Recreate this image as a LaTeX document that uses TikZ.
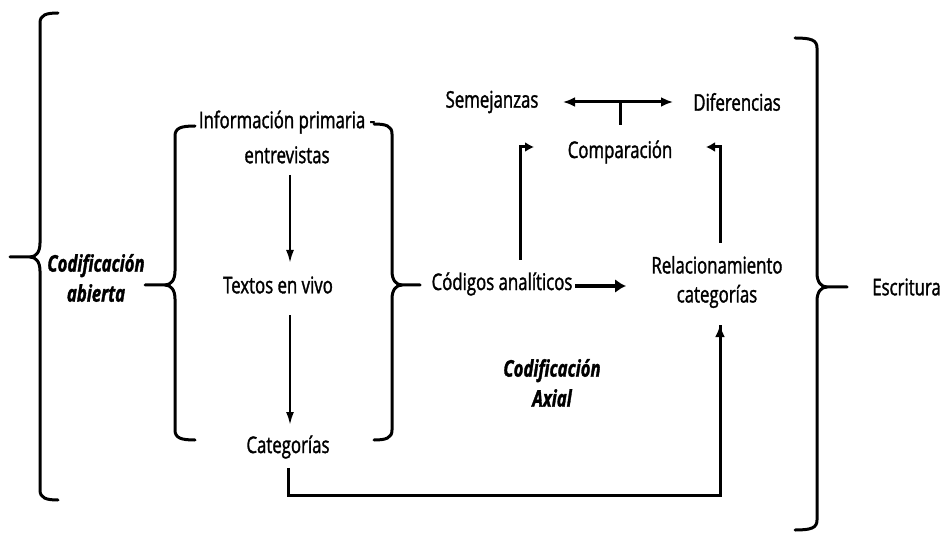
\documentclass[tikz,border=0pt]{standalone}
\usepackage{fontspec}
\setmainfont{Open Sans}[FakeStretch=0.73, FakeBold=1.4]
\usetikzlibrary{arrows.meta}
\newcommand\mybrace[7]{%
\draw[brk] (#5,#2) .. controls ({#1-6*#7},#2) and (#1,{#2+2}) .. (#1,{#2+10}) -- (#1,{#3-14}) .. controls (#1,{#3-5}) and ({#1+4*#7},#3) .. ({#1+10*#7},#3) -- (#6,#3);
\draw[brk] (#5,#4) .. controls ({#1-6*#7},#4) and (#1,{#4-2}) .. (#1,{#4-10}) -- (#1,{#3+14}) .. controls (#1,{#3+5}) and ({#1+4*#7},#3) .. ({#1+10*#7},#3);}
\begin{document}
\begin{tikzpicture}[x=1pt,y=-1pt,
 txt/.style={font=\fontsize{23}{29}\selectfont, inner sep=1pt, align=center},
 ttl/.style={font=\fontsize{23}{30}\selectfont\bfseries\itshape, align=center, inner sep=1pt},
 tip/.tip={Latex[length=12pt,width=10pt]},
 elbtip/.tip={Latex[length=9pt,width=10pt]},
 thintip/.tip={Latex[length=13pt,width=8pt]},
 bigtip/.tip={Latex[length=11pt,width=14pt]},
 arr/.style={-tip, line width=3pt},
 elb/.style={-elbtip, line width=3pt},
 thin/.style={-thintip, line width=2.2pt},
 thick/.style={-bigtip, line width=4.2pt},
 ln/.style={line width=3pt},
 brk/.style={line width=3pt, line cap=round}]
\useasboundingbox[fill=white] (0,0) rectangle (944,534);
% braces
\mybrace{40}{13}{257}{500}{58}{10}{-1}
\mybrace{175}{126}{285}{440}{195}{145}{-1}
\mybrace{392}{124}{285}{440}{374}{420}{1}
\mybrace{817}{38}{287}{530}{795}{847}{1}
% nodes
\node[ttl] (ca) at (96,278) {Codificación\\abierta};
\node[txt, font=\fontsize{23}{35}\selectfont] (inf) at (287,137) {Información primaria -\\entrevistas};
\node[txt] (tev) at (278,285) {Textos en vivo};
\node[txt] (cat) at (288,447) {Categorías};
\node[txt] (cod) at (502,284) {Códigos analíticos};
\node[txt] (rel) at (717,282) {Relacionamiento\\categorías};
\node[txt] (comp) at (620,152) {Comparación};
\node[txt] (sem) at (492,102) {Semejanzas};
\node[txt] (dif) at (737,102) {Diferencias};
\node[ttl] (cax) at (552,383) {Codificación\\Axial};
\node[txt, anchor=east] (esc) at (942,287) {Escritura};
% helper coordinates
\coordinate (a1) at (290,175);
\coordinate (a2) at (290,263);
\coordinate (a3) at (290,315);
\coordinate (a4) at (290,425);
\coordinate (b1) at (575,286);
\coordinate (b2) at (626,286);
\coordinate (c1) at (520,260);
\coordinate (c2) at (534,147);
\coordinate (d1) at (720,243);
\coordinate (d2) at (706,147);
\coordinate (e1) at (563,102);
\coordinate (e2) at (673,102);
\coordinate (f1) at (620,102);
\coordinate (f2) at (620,125);
\coordinate (g2) at (720,325);
% connectors
\draw[thin] (a1) -- (a2);
\draw[thin] (a3) -- (a4);
\draw[thick] (b1) -- (b2);
\draw[elb] (c1) |- (c2);
\draw[elb] (d1) |- (d2);
\draw[arr, tip-tip] (e1) -- (e2);
\draw[ln] (f1) -- (f2);
\draw[arr, -] ([yshift=-8pt]cat.south) -- (288,495) -| (g2);
\draw[arr] (720,340) -- (g2);
\end{tikzpicture}
\end{document}
